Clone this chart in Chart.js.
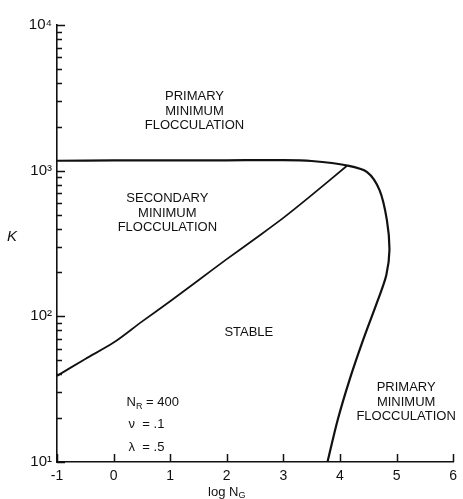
<!DOCTYPE html>
<html>
<head>
<meta charset="utf-8">
<script src="https://cdn.jsdelivr.net/npm/chart.js@4/dist/chart.umd.min.js"></script>
<style>
  html, body { margin: 0; padding: 0; background: #fff; }
  canvas { display: block; }
</style>
</head>
<body>
<canvas id="c" width="463" height="499"></canvas>
<script>
// Stability boundary curves, K versus log N_G
const upperLogNG = [-1, 0, 1, 2, 3, 3.5, 4.13, 4.48, 4.7, 4.83, 4.875, 4.82, 4.67, 4.41, 4.17, 3.96, 3.78];
const upperK     = [1170, 1175, 1175, 1178, 1182, 1165, 1085, 979, 736, 458, 285, 192, 129, 68.8, 36.6, 19.4, 10];

const lowerLogNG = [-1, -0.5, 0, 0.5, 1, 1.5, 2, 2.5, 3, 3.5, 4.13];
const lowerK     = [39, 51, 66, 92, 127, 177, 247, 341, 474, 679, 1085];

const xTicks = [-1, 0, 1, 2, 3, 4, 5, 6];
const yDecades = [10, 100, 1000, 10000];
const yDecadeLabels = ['10¹', '10²', '10³', '10⁴'];

const FONT = '"Liberation Sans", Arial, Helvetica, sans-serif';
const INK = '#111';

// Region captions, placed in data coordinates
const regionLabels = [
  { x: 1.43, k: 2570, lines: ['PRIMARY', 'MINIMUM', 'FLOCCULATION'] },
  { x: 0.95, k: 512, lines: ['SECONDARY', 'MINIMUM', 'FLOCCULATION'] },
  { x: 2.39, k: 77, lines: ['STABLE'] },
  { x: 5.17, k: 25.8, lines: ['PRIMARY', 'MINIMUM', 'FLOCCULATION'] }
];

const toPoints = (xs, ys) => xs.map((x, i) => ({ x: x, y: ys[i] }));

const decorations = {
  id: 'decorations',
  afterDraw(chart) {
    const { ctx, chartArea, scales } = chart;
    const xs = scales.x, ys = scales.y;
    ctx.save();
    ctx.strokeStyle = INK;
    ctx.lineWidth = 1.5;

    // inward ticks on the K axis: decades and 2..9 subdivisions
    ctx.beginPath();
    for (let d = 0; d < yDecades.length; d++) {
      const base = yDecades[d];
      const py = Math.round(ys.getPixelForValue(base)) + 0.5;
      ctx.moveTo(chartArea.left, py);
      ctx.lineTo(chartArea.left + 8, py);
      if (d < yDecades.length - 1) {
        for (let m = 2; m <= 9; m++) {
          const p = Math.round(ys.getPixelForValue(base * m)) + 0.5;
          ctx.moveTo(chartArea.left, p);
          ctx.lineTo(chartArea.left + 5, p);
        }
      }
    }
    // inward ticks on the log N_G axis
    xTicks.forEach(v => {
      const px = Math.round(xs.getPixelForValue(v)) + 0.5;
      ctx.moveTo(px, chartArea.bottom);
      ctx.lineTo(px, chartArea.bottom - 8);
    });
    ctx.stroke();

    // region captions
    ctx.fillStyle = INK;
    ctx.font = '13px ' + FONT;
    ctx.textAlign = 'center';
    ctx.textBaseline = 'middle';
    regionLabels.forEach(lab => {
      const cx = xs.getPixelForValue(lab.x);
      const cy = ys.getPixelForValue(lab.k);
      const n = lab.lines.length;
      lab.lines.forEach((t, i) => {
        ctx.fillText(t, cx, cy + (i - (n - 1) / 2) * 14.5);
      });
    });

    // parameter block
    ctx.textAlign = 'left';
    ctx.font = '13px ' + FONT;
    const px0 = xs.getPixelForValue(0.23);
    const py0 = ys.getPixelForValue(25.5);
    ctx.fillText('N', px0, py0);
    let w = ctx.measureText('N').width;
    ctx.font = '9px ' + FONT;
    ctx.fillText('R', px0 + w, py0 + 4);
    w += ctx.measureText('R').width;
    ctx.font = '13px ' + FONT;
    ctx.fillText(' = 400', px0 + w, py0);
    ctx.fillText('ν  = .1', px0 + 2, py0 + 22);
    ctx.fillText('λ  = .5', px0 + 2, py0 + 45);

    // axis titles
    ctx.font = '13px ' + FONT;
    const title = 'log N';
    const tw = ctx.measureText(title).width;
    ctx.font = '9px ' + FONT;
    const sw = ctx.measureText('G').width;
    const tx = xs.getPixelForValue(2) - (tw + sw) / 2;
    const ty = 492;
    ctx.font = '13px ' + FONT;
    ctx.fillText(title, tx, ty);
    ctx.font = '9px ' + FONT;
    ctx.fillText('G', tx + tw, ty + 4);

    ctx.font = 'italic 15px ' + FONT;
    ctx.textAlign = 'center';
    ctx.fillText('K', 12, ys.getPixelForValue(351));
    ctx.restore();
  }
};

new Chart(document.getElementById('c'), {
  type: 'scatter',
  data: {
    datasets: [
      {
        data: toPoints(upperLogNG, upperK),
        showLine: true,
        borderColor: INK,
        borderWidth: 2.2,
        pointRadius: 0,
        tension: 0.3
      },
      {
        data: toPoints(lowerLogNG, lowerK),
        showLine: true,
        borderColor: INK,
        borderWidth: 1.8,
        pointRadius: 0,
        tension: 0.3
      }
    ]
  },
  options: {
    responsive: false,
    animation: false,
    devicePixelRatio: 1,
    layout: { padding: { top: 25, right: 4, left: 0, bottom: 0 } },
    plugins: { legend: { display: false }, tooltip: { enabled: false } },
    scales: {
      x: {
        type: 'linear',
        min: -1,
        max: 6,
        afterBuildTicks: s => { s.ticks = xTicks.map(v => ({ value: v })); },
        afterFit: s => { s.height = 37; },
        grid: { display: false, drawTicks: false },
        border: { display: true, color: INK, width: 1.6 },
        ticks: {
          padding: 6,
          color: INK,
          font: { family: FONT, size: 14 },
          callback: v => String(v)
        }
      },
      y: {
        type: 'logarithmic',
        min: 10,
        max: 10000,
        afterBuildTicks: s => { s.ticks = yDecades.map(v => ({ value: v })); },
        afterFit: s => { s.width = 57; },
        grid: { display: false, drawTicks: false },
        border: { display: true, color: INK, width: 1.6 },
        ticks: {
          padding: 5,
          color: INK,
          font: { family: FONT, size: 15 },
          callback: v => {
            const i = yDecades.indexOf(v);
            return i >= 0 ? yDecadeLabels[i] : '';
          }
        }
      }
    }
  },
  plugins: [decorations]
});
</script>
</body>
</html>
